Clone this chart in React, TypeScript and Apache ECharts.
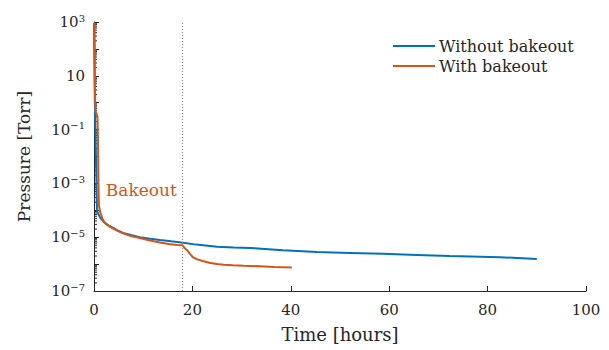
import React, { useEffect, useRef } from "react";
import * as echarts from "echarts";

// Time [hours] and Pressure [Torr]
const withoutTime = [0, 0.1, 0.2, 0.4, 0.6, 0.9, 1.2, 1.6, 2.2, 3.0, 3.9, 4.9, 5.9, 7.5, 9.3, 11.4, 13.4, 15.7, 18.1, 20.8, 25.0, 28.4, 31.7, 38.4, 45.3, 52.0, 58.7, 65.6, 72.3, 82.5, 90.0];
const withoutPressure = [900, 10, 0.5, 0.01, 1e-4, 7e-5, 5.6e-5, 4.4e-5, 3.4e-5, 2.7e-5, 2.2e-5, 1.75e-5, 1.45e-5, 1.2e-5, 1.0e-5, 8.8e-6, 7.9e-6, 7.0e-6, 6.2e-6, 5.3e-6, 4.4e-6, 4.15e-6, 4.0e-6, 3.3e-6, 2.8e-6, 2.6e-6, 2.4e-6, 2.2e-6, 2.0e-6, 1.8e-6, 1.55e-6];

const withTime = [0.1, 0.15, 0.2, 0.3, 0.7, 0.8, 0.9, 1.0, 1.3, 1.7, 2.2, 3.0, 3.9, 4.9, 5.9, 7.5, 9.3, 11.4, 13.4, 15.2, 16.9, 18.0, 18.4, 18.9, 19.5, 20.1, 21.0, 22.1, 23.4, 25.0, 26.4, 28.2, 30.5, 33.7, 36.6, 40.2];
const withPressure = [950, 100, 3, 0.5, 0.3, 0.05, 1e-3, 1.5e-4, 8e-5, 5e-5, 3.4e-5, 2.6e-5, 2.1e-5, 1.7e-5, 1.4e-5, 1.1e-5, 9.3e-6, 7.5e-6, 6.3e-6, 5.6e-6, 5.1e-6, 5.0e-6, 4.0e-6, 3.3e-6, 2.4e-6, 1.8e-6, 1.5e-6, 1.3e-6, 1.12e-6, 1.0e-6, 9.5e-7, 9.1e-7, 8.7e-7, 8.3e-7, 7.8e-7, 7.4e-7];

const seriesNames = ["Without bakeout", "With bakeout"];
const xTicks = [0, 20, 40, 60, 80, 100];
const yMinExp = -7;
const yMaxExp = 3;
const bakeoutTime = 18;
const bakeoutLabel = "Bakeout";
const bakeoutLabelPos = [2.4, 5.6e-4];

const FONT = "DejaVu Serif";
const INK = "#262626";
const BLUE = "#0072BD";
const ORANGE = "#D95319";

export default function App() {
  const ref = useRef<HTMLDivElement>(null);
  useEffect(() => {
    if (!ref.current) return;
    const chart = echarts.init(ref.current, null, { renderer: "svg" });
    const supLabel = (v: number) => {
      const e = Math.round(Math.log10(v));
      if (Math.abs(e) % 2 === 0) return "";
      if (e === 1) return "{b|10}";
      const s = e < 0 ? "\u2212" + -e : String(e);
      return "{b|10}{s|" + s + "}";
    };
    // log-axis minor tick positions (2..9 x 10^n)
    const minorTicks: number[][] = [];
    for (let e = yMinExp; e < yMaxExp; e++) {
      for (let k = 2; k <= 9; k++) minorTicks.push([0, k * Math.pow(10, e)]);
    }
    chart.setOption({
      animation: false,
      textStyle: { fontFamily: FONT, color: INK },
      grid: { left: 94, right: 23, top: 22, bottom: 59, containLabel: false },
      legend: {
        orient: "vertical",
        left: 388,
        top: 33,
        itemWidth: 42,
        itemHeight: 2,
        itemGap: 4,
        icon: "rect",
        textStyle: { fontFamily: FONT, fontSize: 16, color: INK, padding: [0, 0, 0, -1] },
        data: seriesNames,
      },
      xAxis: {
        type: "value",
        min: xTicks[0],
        max: xTicks[xTicks.length - 1],
        interval: 20,
        name: "Time [hours]",
        nameLocation: "middle",
        nameGap: 34,
        nameTextStyle: { fontFamily: FONT, fontSize: 18, color: INK },
        axisLine: { onZero: false, lineStyle: { color: INK, width: 1 } },
        axisTick: { inside: true, length: 5, lineStyle: { color: INK } },
        axisLabel: { fontFamily: FONT, fontSize: 15, color: INK, margin: 11 },
        splitLine: { show: false },
      },
      yAxis: {
        type: "log",
        logBase: 10,
        min: Math.pow(10, yMinExp),
        max: Math.pow(10, yMaxExp),
        interval: 1,
        name: "Pressure [Torr]",
        nameLocation: "middle",
        nameGap: 62,
        nameTextStyle: { fontFamily: FONT, fontSize: 17, color: INK },
        axisLine: { show: true, lineStyle: { color: INK, width: 1 } },
        axisTick: { inside: true, length: 5, lineStyle: { color: INK } },
        minorTick: { show: false },
        axisLabel: {
          fontFamily: FONT,
          color: INK,
          margin: 9,
          formatter: supLabel,
          rich: {
            b: { fontFamily: FONT, fontSize: 15, color: INK },
            s: { fontFamily: FONT, fontSize: 10, color: INK, verticalAlign: "top", padding: [0, 0, 8, 0] },
          },
        },
        splitLine: { show: false },
      },
      series: [
        {
          name: "minor ticks",
          type: "custom",
          silent: true,
          clip: false,
          z: 1,
          data: minorTicks,
          renderItem: (_params: any, api: any) => {
            const p = api.coord([api.value(0), api.value(1)]);
            return {
              type: "line",
              shape: { x1: p[0], y1: p[1], x2: p[0] + 3, y2: p[1] },
              style: { stroke: INK, lineWidth: 1 },
            };
          },
        },
        {
          name: seriesNames[0],
          type: "line",
          showSymbol: false,
          symbol: "none",
          lineStyle: { color: BLUE, width: 2 },
          itemStyle: { color: BLUE },
          data: withoutTime.map((t, i) => [t, withoutPressure[i]]),
          z: 2,
        },
        {
          name: seriesNames[1],
          type: "line",
          showSymbol: false,
          symbol: "none",
          lineStyle: { color: ORANGE, width: 2 },
          itemStyle: { color: ORANGE },
          data: withTime.map((t, i) => [t, withPressure[i]]),
          z: 3,
          markLine: {
            silent: true,
            symbol: ["none", "none"],
            label: { show: false },
            lineStyle: { color: "#888", type: [1, 2], width: 1 },
            data: [{ xAxis: bakeoutTime }],
          },
          markPoint: {
            symbol: "circle",
            symbolSize: 0,
            label: {
              show: true,
              position: "right",
              distance: 0,
              formatter: bakeoutLabel,
              fontFamily: FONT,
              fontSize: 17,
              color: ORANGE,
            },
            data: [{ coord: bakeoutLabelPos }],
          },
        },
      ],
    });
    return () => chart.dispose();
  }, []);
  return <div ref={ref} style={{ position: "absolute", left: 0, top: 0, width: 609, height: 350 }} />;
}
